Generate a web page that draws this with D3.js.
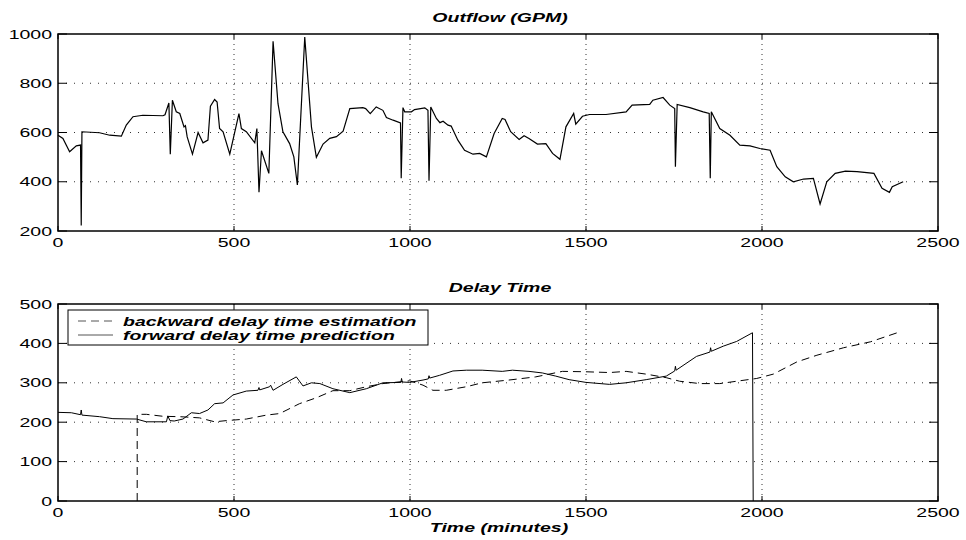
<!doctype html>
<html>
  <head>
    <meta charset="utf-8">
    <title>Outflow and Delay Time</title>
    <script src="https://cdnjs.cloudflare.com/ajax/libs/d3/7.8.5/d3.min.js"></script>
    <style>
      body { margin: 0; background: #fff; }
      text { font-family: "Liberation Sans", Arial, Helvetica, sans-serif; fill: #000; }
      .bi { font-weight: bold; font-style: italic; }
    </style>
  </head>
  <body>
    <div id="chart"></div>
    <script>
      // x ticks shared by both panels
      const xTicks = [0, 500, 1000, 1500, 2000, 2500];
      const outTicks = [200, 400, 600, 800, 1000];
      const delayTicks = [0, 100, 200, 300, 400, 500];

      // Outflow (GPM) vs time (minutes)
      const outflow = [
        [0,589],[14,576],[33,522],[52,546],[64,549],[66,222],[68,603],[118,599],[147,589],
        [180,585],[194,630],[213,664],[241,670],[298,668],[304,672],[315,720],[319,512],
        [325,731],[336,684],[346,677],[358,623],[362,628],[367,582],[382,512],[398,600],
        [412,558],[426,569],[433,707],[445,734],[452,724],[459,616],[469,603],[488,512],
        [497,569],[514,677],[521,616],[535,603],[559,558],[565,616],[571,357],[578,526],
        [599,434],[611,970],[625,717],[639,603],[658,555],[670,501],[680,387],[701,988],
        [720,623],[734,499],[753,553],[772,576],[791,583],[810,605],[829,697],[866,701],
        [874,697],[887,677],[904,704],[923,690],[933,661],[952,650],[973,639],[975,414],
        [980,701],[985,684],[1004,684],[1013,693],[1042,700],[1051,690],[1054,404],[1059,704],
        [1075,657],[1085,640],[1094,646],[1108,630],[1117,626],[1136,569],[1155,528],
        [1179,512],[1198,515],[1217,501],[1239,596],[1262,657],[1270,653],[1286,603],
        [1310,572],[1324,587],[1338,576],[1362,553],[1386,555],[1405,515],[1426,491],
        [1443,623],[1465,677],[1471,634],[1490,666],[1510,673],[1557,673],[1614,684],
        [1631,711],[1681,714],[1690,731],[1719,742],[1738,711],[1752,697],[1754,461],
        [1759,714],[1795,701],[1833,684],[1850,677],[1853,414],[1856,684],[1880,616],
        [1909,589],[1937,549],[1966,546],[1994,535],[2023,528],[2042,461],[2066,420],
        [2089,400],[2118,411],[2146,414],[2165,310],[2184,400],[2208,434],[2237,443],
        [2270,441],[2318,434],[2341,373],[2362,357],[2370,380],[2401,400]
      ];

      // Delay time (minutes): forward prediction (solid)
      const forward = [
        [0,225],[38,224],[64,219],[66,231],[68,218],[118,214],[156,209],[223,208],[251,201],
        [308,201],[312,216],[318,204],[330,203],[355,208],[379,224],[402,222],[426,231],
        [445,247],[469,249],[497,269],[535,279],[568,281],[571,288],[573,282],[601,290],
        [604,294],[611,281],[639,296],[677,315],[696,292],[720,300],[744,298],[781,285],
        [829,275],[876,285],[923,300],[974,301],[976,311],[978,302],[999,301],[1037,307],
        [1052,310],[1054,318],[1056,312],[1084,319],[1122,330],[1160,332],[1205,332],
        [1262,329],[1291,332],[1338,329],[1376,325],[1414,317],[1452,308],[1500,301],
        [1567,296],[1614,300],[1671,308],[1728,317],[1752,330],[1754,342],[1756,332],
        [1814,367],[1852,378],[1854,389],[1856,380],[1890,393],[1928,405],[1973,427],[1975,0]
      ];

      // Delay time (minutes): backward estimation (dashed)
      const backward = [
        [225,0],[225,220],[251,220],[298,215],[346,214],[402,211],[445,201],[478,204],
        [535,208],[592,218],[630,222],[686,247],[734,262],[781,280],[829,280],[876,290],
        [923,298],[999,305],[1037,294],[1065,281],[1103,281],[1160,290],[1205,300],
        [1281,307],[1357,315],[1433,329],[1500,328],[1567,326],[1614,329],[1671,322],
        [1728,313],[1766,304],[1823,298],[1880,298],[1928,304],[1985,311],[2032,322],
        [2099,353],[2156,370],[2232,389],[2308,404],[2384,427]
      ];

      const W = 966, H = 540;
      const left = 58, right = 938;
      const sx = 1.5;   // the original figure is stretched horizontally

      const svg = d3.select('#chart').append('svg')
        .attr('width', W).attr('height', H);

      const x = d3.scaleLinear().domain([0, 2500]).range([left, right]);

      // put text with the horizontal stretch of the original
      function label(g, tx, ty, str, anchor, cls) {
        return g.append('text')
          .attr('transform', `translate(${tx},${ty}) scale(${sx},1)`)
          .attr('text-anchor', anchor)
          .attr('class', cls || null)
          .style('font-size', '13px')
          .text(str);
      }

      function panel(top, bottom, yDomain, yTicks, title) {
        const y = d3.scaleLinear().domain(yDomain).range([bottom, top]);
        const g = svg.append('g');

        // dotted grid
        g.selectAll('.gx').data(xTicks.slice(1, -1)).join('line')
          .attr('x1', d => x(d)).attr('x2', d => x(d))
          .attr('y1', top).attr('y2', bottom)
          .attr('stroke', '#333').attr('stroke-width', 1)
          .attr('stroke-dasharray', '1,4');
        g.selectAll('.gy').data(yTicks.slice(1, -1)).join('line')
          .attr('x1', left).attr('x2', right)
          .attr('y1', d => y(d)).attr('y2', d => y(d))
          .attr('stroke', '#333').attr('stroke-width', 1)
          .attr('stroke-dasharray', '1,7');

        // inward ticks on all four sides
        xTicks.forEach(d => {
          g.append('line').attr('x1', x(d)).attr('x2', x(d)).attr('y1', bottom).attr('y2', bottom - 5)
            .attr('stroke', '#000');
          g.append('line').attr('x1', x(d)).attr('x2', x(d)).attr('y1', top).attr('y2', top + 5)
            .attr('stroke', '#000');
          label(g, x(d), bottom + 16, d, 'middle');
        });
        yTicks.forEach(d => {
          g.append('line').attr('x1', left).attr('x2', left + 9).attr('y1', y(d)).attr('y2', y(d))
            .attr('stroke', '#000');
          g.append('line').attr('x1', right).attr('x2', right - 9).attr('y1', y(d)).attr('y2', y(d))
            .attr('stroke', '#000');
          label(g, left - 6, y(d) + 4.5, d, 'end');
        });

        g.append('rect')
          .attr('x', left).attr('y', top)
          .attr('width', right - left).attr('height', bottom - top)
          .attr('fill', 'none').attr('stroke', '#000').attr('stroke-width', 1.5);

        label(g, (left + right) / 2 + 2, top - 12, title, 'middle', 'bi');
        return { g, y };
      }

      // top panel: outflow
      const p1 = panel(34, 231, [200, 1000], outTicks, 'Outflow (GPM)');
      p1.g.append('path')
        .datum(outflow)
        .attr('d', d3.line().x(d => x(d[0])).y(d => p1.y(d[1])))
        .attr('fill', 'none').attr('stroke', '#000').attr('stroke-width', 1.2);

      // bottom panel: delay time
      const p2 = panel(304, 501, [0, 500], delayTicks, 'Delay Time');
      const line2 = d3.line().x(d => x(d[0])).y(d => p2.y(d[1]));
      p2.g.append('path').datum(backward).attr('d', line2)
        .attr('fill', 'none').attr('stroke', '#000').attr('stroke-width', 1)
        .attr('stroke-dasharray', '8,5');
      p2.g.append('path').datum(forward).attr('d', line2)
        .attr('fill', 'none').attr('stroke', '#000').attr('stroke-width', 1);

      label(svg, (left + right) / 2 + 1, 532, 'Time (minutes)', 'middle', 'bi');

      // legend
      const lg = svg.append('g');
      lg.append('rect').attr('x', 68).attr('y', 310).attr('width', 360).attr('height', 35)
        .attr('fill', '#fff').attr('stroke', '#000').attr('stroke-width', 1);
      const legendItems = [
        { name: 'backward delay time estimation', dash: '8,5' },
        { name: 'forward delay time prediction', dash: null }
      ];
      legendItems.forEach((it, i) => {
        const ly = 321 + i * 14;
        lg.append('line').attr('x1', 78).attr('x2', 113).attr('y1', ly).attr('y2', ly)
          .attr('stroke', '#555').attr('stroke-width', 1)
          .attr('stroke-dasharray', it.dash);
        label(lg, 123, ly + 4.5, it.name, 'start', 'bi');
      });
    </script>
  </body>
</html>
